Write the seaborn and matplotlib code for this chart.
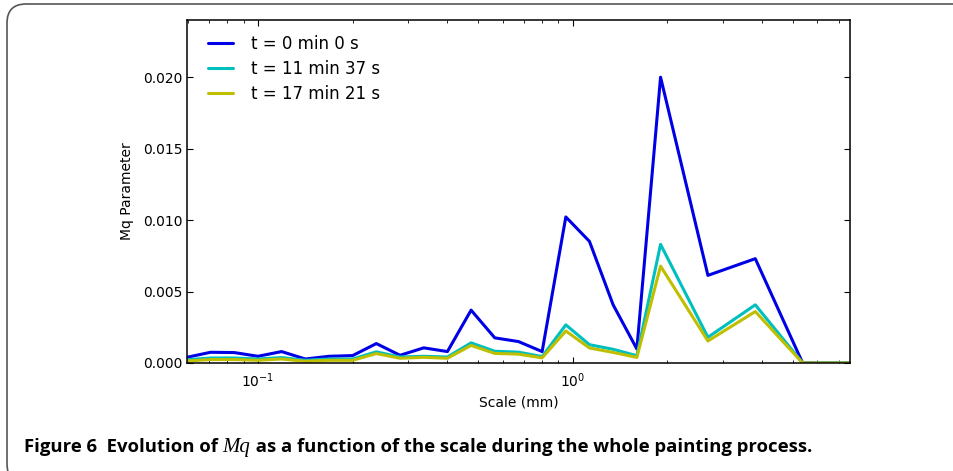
import matplotlib
matplotlib.use("Agg")
import matplotlib.pyplot as plt
from matplotlib.patches import FancyBboxPatch
import numpy as np
import pandas as pd
import seaborn as sns

# ---- data ----
scales = [0.0595, 0.0707, 0.0841, 0.1, 0.1189, 0.1414, 0.1682, 0.2, 0.2378,
          0.2828, 0.3364, 0.4, 0.4757, 0.5657, 0.6727, 0.8, 0.9514, 1.131,
          1.345, 1.6, 1.903, 2.691, 3.806, 5.382, 7.611]
mq_t0 = [0.0004, 0.00075, 0.00073, 0.00047, 0.0008, 0.00028, 0.00047, 0.00052,
         0.00136, 0.00054, 0.00106, 0.0008, 0.0037, 0.00176, 0.0015, 0.0008,
         0.01022, 0.00851, 0.00407, 0.00098, 0.0200, 0.00613, 0.0073, 0.0, 0.0]
mq_t1 = [0.00023, 0.00035, 0.00035, 0.00028, 0.00038, 0.00019, 0.00028, 0.00028,
         0.00078, 0.00042, 0.00047, 0.00042, 0.00141, 0.00082, 0.00076, 0.00045,
         0.00267, 0.00128, 0.00096, 0.00051, 0.0083, 0.0018, 0.00407, 0.0, 0.0]
mq_t2 = [0.00014, 0.00024, 0.00024, 0.00019, 0.00028, 0.00012, 0.00019, 0.00019,
         0.00066, 0.00033, 0.0004, 0.00033, 0.00123, 0.00067, 0.00062, 0.00036,
         0.00224, 0.00105, 0.00074, 0.00039, 0.00678, 0.00154, 0.0036, 0.0, 0.0]
labels = ["t = 0 min 0 s", "t = 11 min 37 s", "t = 17 min 21 s"]
colors = ["#0000e6", "#00bfbf", "#bfbf00"]
yticks = [0.000, 0.005, 0.010, 0.015, 0.020]

frames = []
for lab, vals in zip(labels, [mq_t0, mq_t1, mq_t2]):
    frames.append(pd.DataFrame({"scale": scales, "mq": vals, "series": lab}))
df = pd.concat(frames, ignore_index=True)

sns.set_style("white")
plt.rcParams["font.family"] = ["DejaVu Sans"]
plt.rcParams["text.color"] = "black"
plt.rcParams["axes.labelcolor"] = "black"

fig = plt.figure(figsize=(9.54, 4.71), dpi=100)
ax = fig.add_axes([187 / 954, 1 - 363 / 471, (850 - 187) / 954, (363 - 20) / 471])

sns.lineplot(data=df, x="scale", y="mq", hue="series", hue_order=labels,
             palette=dict(zip(labels, colors)), estimator=None, sort=False,
             linewidth=2.2, ax=ax)

ax.set_xscale("log")
ax.set_xlim(min(scales), max(scales))
ax.set_ylim(0, 0.024)
ax.set_yticks(yticks)
ax.set_yticklabels([f"{v:.3f}" for v in yticks])
ax.set_xlabel("Scale (mm)", fontsize=10)
ax.set_ylabel("Mq Parameter", fontsize=10, labelpad=6)
ax.tick_params(which="both", direction="in", top=True, right=True,
               bottom=True, left=True, colors="black", labelsize=10)
ax.tick_params(which="major", length=4.5, width=0.8)
ax.tick_params(which="minor", length=2.5, width=0.6)
ax.tick_params(axis="x", which="major", pad=6)
for s in ax.spines.values():
    s.set_color("black")
    s.set_linewidth(1.1)

leg = ax.legend(loc="upper left", bbox_to_anchor=(0.022, 0.976), borderaxespad=0,
                frameon=False, fontsize=12, handlelength=1.5,
                labelspacing=0.42, handletextpad=1.05)
for txt in leg.get_texts():
    txt.set_color("black")

# outer rounded frame (cut off at right and bottom)
frame = FancyBboxPatch((7 / 954, -12 / 471), 1.1, (471 - 4 + 12) / 471,
                       boxstyle="round,pad=0,rounding_size=0.02",
                       transform=fig.transFigure, facecolor="none",
                       edgecolor="#555555", linewidth=1.2, clip_on=False,
                       mutation_aspect=954 / 471)
fig.patches.append(frame)

# caption
cap_font = ["Open Sans", "Lato", "DejaVu Sans"]
t1 = fig.text(24 / 954, 1 - 452 / 471, "Figure 6  Evolution of ", fontsize=13.3,
              fontweight="bold", family=cap_font, va="baseline", ha="left",
              color="black")
t2 = fig.text(0, 0, "Mq", fontsize=15, fontstyle="italic",
              family=["Liberation Serif", "DejaVu Serif"], va="baseline", ha="left",
              color="black")
t3 = fig.text(0, 0, " as a function of the scale during the whole painting process.",
              fontsize=13.3, fontweight="bold", family=cap_font,
              va="baseline", ha="left", color="black")
fig.canvas.draw()
r = fig.canvas.get_renderer()
bb1 = t1.get_window_extent(r)
t2.set_position((bb1.x1 / fig.bbox.width, 1 - 452 / 471))
fig.canvas.draw()
bb2 = t2.get_window_extent(r)
t3.set_position((bb2.x1 / fig.bbox.width, 1 - 452 / 471))

fig.savefig("out.png", dpi=100)
